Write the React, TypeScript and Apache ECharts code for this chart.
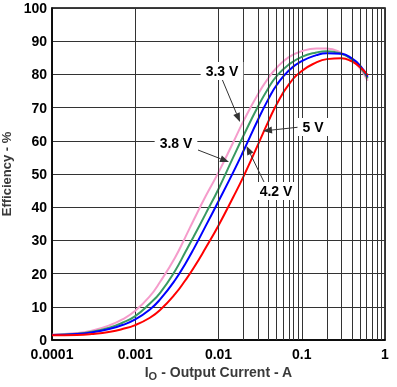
import React, { useEffect, useRef } from 'react';
import * as echarts from 'echarts';

// Output current sample points (A)
const currents: number[] = [
  0.0001, 0.0002, 0.0003, 0.0005, 0.0007, 0.001, 0.0015, 0.002, 0.003, 0.004, 0.005, 0.007,
  0.01, 0.015, 0.02, 0.03, 0.04, 0.05, 0.07, 0.1, 0.15, 0.2, 0.3, 0.4, 0.5, 0.62,
];
// Efficiency (%) for each input voltage
const eff33: number[] = [
  1.6, 2.1, 2.8, 4.5, 6.2, 8.8, 13.2, 17.6, 24.8, 31, 36, 43.3,
  50.5, 59.5, 66, 74.2, 79, 82, 85.2, 87, 87.8, 87.8, 86.5, 84.3, 81.8, 78.1,
];
const eff38: number[] = [
  1.5, 1.9, 2.5, 3.8, 5.2, 7.2, 11.0, 14.3, 20.8, 26.5, 31, 38,
  45.5, 55, 61.6, 70.5, 76, 79.5, 83, 85.3, 86.6, 87, 86.2, 84.5, 82.3, 78.8,
];
const eff42: number[] = [
  1.5, 1.8, 2.3, 3.4, 4.5, 6.2, 9.2, 12.3, 18, 23, 27.3, 34.3,
  41.8, 50.5, 57, 66.5, 72.7, 76.8, 81.2, 84, 85.8, 86.4, 86.2, 84.8, 82.7, 79.3,
];
const eff50: number[] = [
  1.4, 1.5, 1.8, 2.5, 3.3, 4.5, 6.7, 9.1, 13.8, 18, 21.6, 27.7,
  34.5, 43, 49.3, 59, 66, 71, 77, 81, 83.6, 84.6, 84.9, 83.9, 82.2, 79.8,
];

const xTickLabels = ['0.0001', '0.001', '0.01', '0.1', '1'];
const minorMultipliers = [2, 3, 4, 5, 6, 7, 8, 9];
const decades = [0.0001, 0.001, 0.01, 0.1];

const FONT = '"Liberation Sans", Arial, sans-serif';
const GRID_COLOR = '#333';

function arrow(x1: number, y1: number, x2: number, y2: number) {
  const dx = x2 - x1, dy = y2 - y1;
  const L = Math.hypot(dx, dy);
  const ux = dx / L, uy = dy / L;
  const hl = 9, hw = 3.5;
  const bx = x2 - ux * hl, by = y2 - uy * hl;
  return [
    { type: 'line', shape: { x1, y1, x2: bx, y2: by }, style: { stroke: '#333', lineWidth: 1 }, z: 10, silent: true },
    {
      type: 'polygon',
      shape: { points: [[x2, y2], [bx - uy * hw, by + ux * hw], [bx + uy * hw, by - ux * hw]] },
      style: { fill: '#333' }, z: 10, silent: true,
    },
  ];
}

function label(text: string, x: number, y: number) {
  return {
    type: 'text', x, y, z: 11, silent: true,
    style: {
      text, font: `bold 14px ${FONT}`, fill: '#000',
      align: 'center', verticalAlign: 'middle', textAlign: 'center', textVerticalAlign: 'middle',
      backgroundColor: '#fff', padding: [2, 5],
    },
  };
}

export default function App() {
  const ref = useRef<HTMLDivElement>(null);
  useEffect(() => {
    const chart = echarts.init(ref.current!, null, { renderer: 'svg' });
    const minorLines = decades.flatMap((d) => minorMultipliers.map((m) => ({ xAxis: +(d * m).toPrecision(2) })));
    const mk = (name: string, color: string, values: number[]) => ({
      type: 'line', name, data: currents.map((c, i) => [c, values[i]]),
      smooth: 0.5, showSymbol: false, symbol: 'none',
      lineStyle: { color, width: 2 }, itemStyle: { color }, z: 3,
    });
    chart.setOption({
      animation: false,
      grid: {
        left: 52, right: 12, top: 8, bottom: 47, show: true, borderColor: '#000', borderWidth: 1.5,
        backgroundColor: '#fff', containLabel: false, outerBoundsMode: 'none',
      },
      xAxis: {
        type: 'log', logBase: 10, min: 0.0001, max: 1,
        axisLine: { show: true, lineStyle: { color: '#000', width: 1.5 } },
        axisTick: { show: false },
        splitLine: { show: true, lineStyle: { color: GRID_COLOR, width: 1 } },
        axisLabel: {
          color: '#000', fontWeight: 'bold', fontSize: 14, fontFamily: FONT, margin: 8, lineHeight: 11,
          formatter: (v: number) => xTickLabels[Math.round(Math.log10(v)) + 4] ?? '',
        },
        name: '{i|I}{s|O}{n| - Output Current - A}',
        nameLocation: 'middle', nameGap: 22,
        nameTextStyle: {
          rich: {
            i: { fontSize: 14, fontWeight: 'bold', color: '#3a3a3a', fontFamily: FONT },
            s: { fontSize: 11, fontWeight: 'bold', color: '#3a3a3a', fontFamily: FONT, padding: [8, 0, 0, 0] },
            n: { fontSize: 14, fontWeight: 'bold', color: '#3a3a3a', fontFamily: FONT },
          },
        },
      },
      yAxis: {
        type: 'value', min: 0, max: 100, interval: 10,
        axisLine: { show: true, lineStyle: { color: '#000', width: 1.5 } },
        axisTick: { show: false },
        splitLine: { show: true, lineStyle: { color: GRID_COLOR, width: 1 } },
        axisLabel: { color: '#000', fontWeight: 'bold', fontSize: 14, fontFamily: FONT, margin: 5, lineHeight: 12 },
        name: 'Efficiency - %', nameLocation: 'middle', nameGap: 37,
        nameTextStyle: { fontSize: 13, fontWeight: 'bold', color: '#3a3a3a', fontFamily: FONT },
      },
      series: [
        {
          type: 'line', data: [], z: 1, silent: true,
          markLine: {
            silent: true, symbol: 'none', label: { show: false },
            lineStyle: { color: GRID_COLOR, width: 1, type: 'solid' },
            emphasis: { disabled: true },
            data: minorLines,
          },
        },
        mk('3.3 V', '#f59ccb', eff33),
        mk('3.8 V', '#3a9a62', eff38),
        mk('4.2 V', '#0000ff', eff42),
        mk('5 V', '#ff0000', eff50),
      ],
      graphic: [
        ...arrow(222, 79, 240, 122),
        ...arrow(198, 150, 229, 162),
        ...arrow(300, 127, 263, 131),
        ...arrow(264, 182, 246.5, 146),
        label('3.3 V', 222, 71),
        label('3.8 V', 176, 143),
        label('5 V', 313, 127),
        label('4.2 V', 276, 191),
      ],
    });
    return () => chart.dispose();
  }, []);
  return <div ref={ref} style={{ width: 397, height: 387, position: 'fixed', left: 0, top: 0 }} />;
}
